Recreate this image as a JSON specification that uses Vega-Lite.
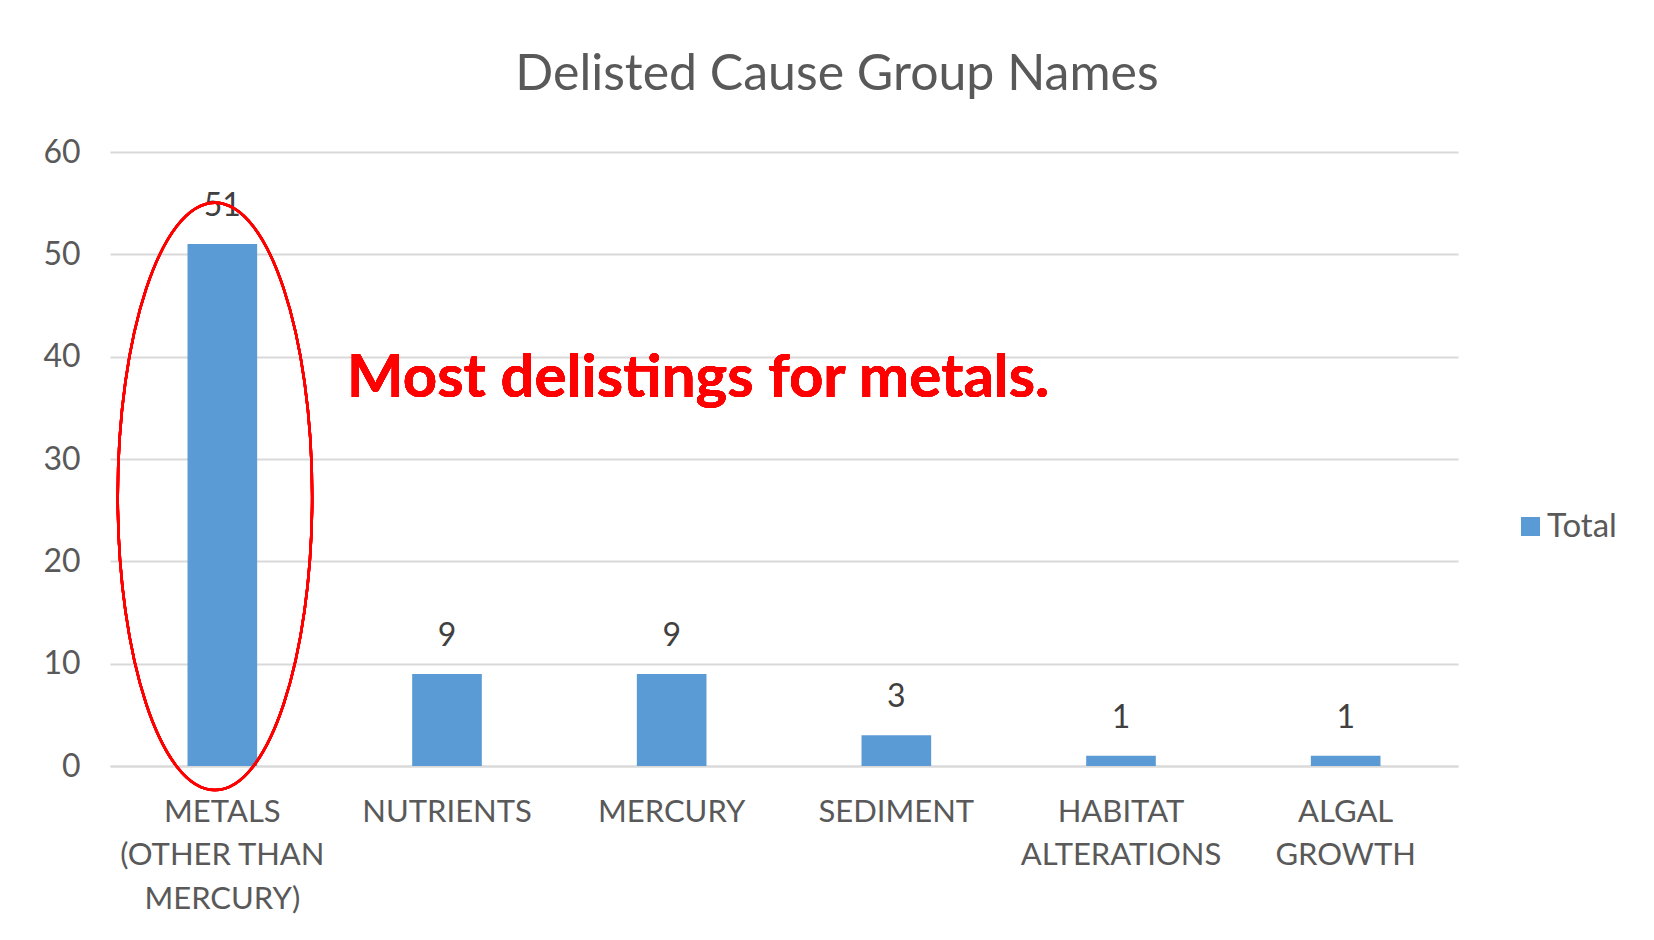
{
  "$schema": "https://vega.github.io/schema/vega-lite/v6.json",
  "autosize": {"type": "none"},
  "padding": {"left": 110, "top": 152, "right": 196, "bottom": 174},
  "width": 1348,
  "height": 614,
  "background": "white",
  "config": {"view": {"stroke": null}},
  "title": {
    "text": "Delisted Cause Group Names",
    "font": "Lato",
    "fontSize": 50,
    "fontWeight": "normal",
    "color": "#595959",
    "anchor": "middle",
    "frame": "group",
    "dx": 53,
    "baseline": "alphabetic",
    "offset": -4
  },
  "data": {
    "values": [
      {"cause": "METALS (OTHER THAN MERCURY)", "total": 51},
      {"cause": "NUTRIENTS", "total": 9},
      {"cause": "MERCURY", "total": 9},
      {"cause": "SEDIMENT", "total": 3},
      {"cause": "HABITAT ALTERATIONS", "total": 1},
      {"cause": "ALGAL GROWTH", "total": 1}
    ]
  },
  "encoding": {
    "x": {
      "field": "cause",
      "type": "nominal",
      "sort": null,
      "title": null,
      "scale": {"paddingInner": 0.69, "paddingOuter": 0.345},
      "axis": {
        "labelAngle": 0,
        "labelFont": "Lato",
        "labelFontSize": 31,
        "labelColor": "#595959",
        "labelBaseline": "top",
        "labelPadding": 31,
        "labelLineHeight": 43.5,
        "labelLimit": 0,
        "ticks": false,
        "domain": true,
        "domainColor": "#D9D9D9",
        "domainWidth": 2,
        "grid": false,
        "labelExpr": "datum.value == 'METALS (OTHER THAN MERCURY)' ? ['METALS', '(OTHER THAN', 'MERCURY)'] : datum.value == 'HABITAT ALTERATIONS' ? ['HABITAT', 'ALTERATIONS'] : datum.value == 'ALGAL GROWTH' ? ['ALGAL', 'GROWTH'] : datum.value"
      }
    },
    "y": {
      "field": "total",
      "type": "quantitative",
      "title": null,
      "scale": {"domain": [0, 60], "nice": false},
      "axis": {
        "values": [0, 10, 20, 30, 40, 50, 60],
        "labelFont": "Lato",
        "labelFontSize": 32,
        "labelColor": "#595959",
        "labelPadding": 30,
        "ticks": false,
        "domain": false,
        "gridColor": "#D9D9D9",
        "gridWidth": 2
      }
    }
  },
  "layer": [
    {
      "mark": {"type": "bar", "color": "#5B9BD5"},
      "encoding": {
        "color": {
          "datum": "Total",
          "scale": {"range": ["#5B9BD5"]},
          "legend": {
            "title": null,
            "orient": "none",
            "legendX": 1404,
            "legendY": 358,
            "padding": 0,
            "symbolType": "square",
            "symbolSize": 361,
            "symbolStrokeWidth": 0,
            "labelFont": "Lato",
            "labelFontSize": 33,
            "labelColor": "#595959",
            "labelOffset": 0
          }
        }
      }
    },
    {
      "mark": {"type": "text", "font": "Lato", "fontSize": 32, "color": "#404040", "baseline": "middle", "dy": -38},
      "encoding": {"text": {"field": "total", "type": "quantitative"}}
    },
    {
      "mark": {
        "type": "point",
        "shape": "M0,-1A0.331,1,0,1,1,0,1A0.331,1,0,1,1,0,-1Z",
        "size": 345000,
        "filled": false,
        "stroke": "#FF0000",
        "strokeWidth": 2.5,
        "opacity": 1
      },
      "encoding": {
        "x": {"datum": "METALS (OTHER THAN MERCURY)", "bandPosition": 0.394},
        "y": {"datum": 26.35}
      }
    },
    {
      "mark": {
        "type": "text",
        "text": "Most delistings for metals.",
        "font": "Lato",
        "fontWeight": "bold",
        "fontSize": 60,
        "color": "#FF0000",
        "align": "left",
        "baseline": "alphabetic",
        "dx": -100
      },
      "encoding": {
        "x": {"datum": "NUTRIENTS"},
        "y": {"datum": 36.1}
      }
    }
  ]
}
